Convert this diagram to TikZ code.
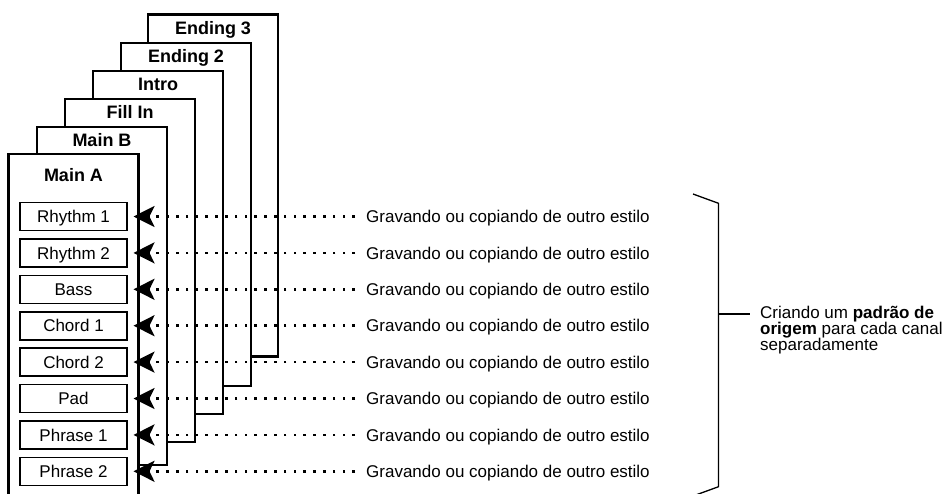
\documentclass[tikz,border=0pt]{standalone}
\usepackage{fontspec}
\setmainfont{Liberation Sans}
\usetikzlibrary{arrows.meta}

\tikzset{
  card/.style={draw=black, line width=2.4pt, fill=white, anchor=north west, minimum width=130pt, inner sep=0pt, outer sep=0pt},
  cardtitle/.style={anchor=base, inner sep=0pt, font=\fontsize{18}{20}\selectfont\bfseries},
  channel/.style={draw=black, line width=1.6pt, fill=white, minimum width=107pt, minimum height=28pt, inner sep=0pt, outer sep=0pt, font=\fontsize{17}{19}\selectfont, text height=12.2pt, text depth=0pt},
  source/.style={anchor=west, inner sep=0pt, font=\fontsize{17}{19}\selectfont, text height=12.2pt, text depth=0pt},
  feed/.style={line width=2.7pt, dash pattern=on 2.7pt off 7.1pt, shorten <=11pt, shorten >=6.5pt, -{Stealth[length=21pt, width=21pt, inset=5pt]}},
  brace/.style={draw=black, line width=1.3pt},
  note/.style={anchor=north west, align=left, inner sep=0pt, font=\fontsize{17}{16}\selectfont},
}

\begin{document}
\begin{tikzpicture}[x=1pt, y=-1pt]
  \useasboundingbox (0,0) rectangle (947,493);
  \clip (0,0) rectangle (947,493);

  % stacked style sections, back to front
  \node[card, minimum height=342pt] (ending3) at (148,14.5) {};
  \node[cardtitle] (ending3title) at ([yshift=-19.5pt]ending3.north) {Ending 3};
  \node[card, minimum height=343pt] (ending2) at (121,43) {};
  \node[cardtitle] (ending2title) at ([yshift=-19.5pt]ending2.north) {Ending 2};
  \node[card, minimum height=343pt] (intro) at (93,71) {};
  \node[cardtitle] (introtitle) at ([yshift=-19.5pt]intro.north) {Intro};
  \node[card, minimum height=343pt] (fillin) at (65,99) {};
  \node[cardtitle] (fillintitle) at ([yshift=-19.5pt]fillin.north) {Fill In};
  \node[card, minimum height=338pt] (mainb) at (37,127) {};
  \node[cardtitle] (mainbtitle) at ([yshift=-19.5pt]mainb.north) {Main B};
  \node[card, minimum height=350pt] (maina) at (8.5,154) {};
  \node[cardtitle] (mainatitle) at ([yshift=-27.5pt]maina.north) {Main A};

  % channels of Main A
  \node[channel] (rhythm1) at (73.5,216.5) {Rhythm 1};
  \node[channel] (rhythm2) at (73.5,252.9) {Rhythm 2};
  \node[channel] (bass) at (73.5,289.3) {Bass};
  \node[channel] (chord1) at (73.5,325.7) {Chord 1};
  \node[channel] (chord2) at (73.5,362.1) {Chord 2};
  \node[channel] (pad) at (73.5,398.5) {Pad};
  \node[channel] (phrase1) at (73.5,434.9) {Phrase 1};
  \node[channel] (phrase2) at (73.5,471.3) {Phrase 2};

  % recording sources
  \node[source] (rec1) at (366,216.5) {Gravando ou copiando de outro estilo};
  \node[source] (rec2) at (366,252.9) {Gravando ou copiando de outro estilo};
  \node[source] (rec3) at (366,289.3) {Gravando ou copiando de outro estilo};
  \node[source] (rec4) at (366,325.7) {Gravando ou copiando de outro estilo};
  \node[source] (rec5) at (366,362.1) {Gravando ou copiando de outro estilo};
  \node[source] (rec6) at (366,398.5) {Gravando ou copiando de outro estilo};
  \node[source] (rec7) at (366,434.9) {Gravando ou copiando de outro estilo};
  \node[source] (rec8) at (366,471.3) {Gravando ou copiando de outro estilo};

  \draw[feed] (rec1.west) -- (rhythm1.east);
  \draw[feed] (rec2.west) -- (rhythm2.east);
  \draw[feed] (rec3.west) -- (bass.east);
  \draw[feed] (rec4.west) -- (chord1.east);
  \draw[feed] (rec5.west) -- (chord2.east);
  \draw[feed] (rec6.west) -- (pad.east);
  \draw[feed] (rec7.west) -- (phrase1.east);
  \draw[feed] (rec8.west) -- (phrase2.east);

  % bracket and note
  \coordinate (bracetop) at (693,194);
  \coordinate (bracebottom) at (693,496);
  \coordinate (bracetick) at (718.5,314);
  \draw[brace] (bracetop) -- (718.5,203.3) -- (718.5,486.7) -- (bracebottom);
  \node[note] (origin) at (760,305.5) {Criando um \textbf{padrão de}\\\textbf{origem} para cada canal\\separadamente};
  \draw[brace] (bracetick) -- ([xshift=-10pt]origin.west |- bracetick);
\end{tikzpicture}
\end{document}
